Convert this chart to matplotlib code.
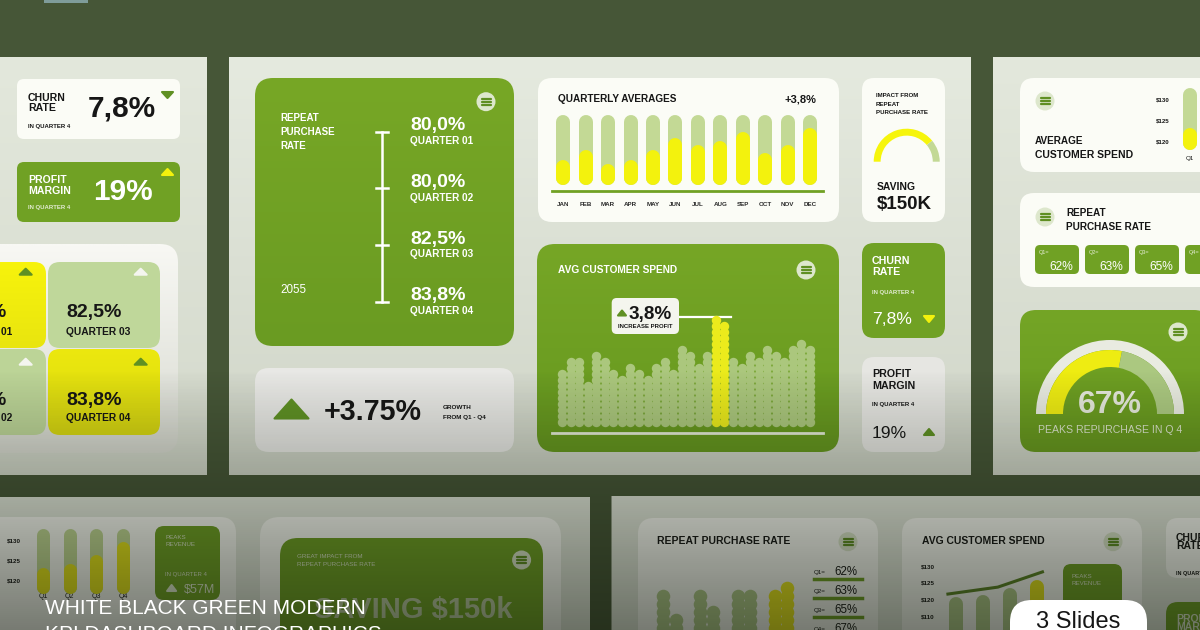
import numpy as np
import matplotlib
matplotlib.use('Agg')
import matplotlib.pyplot as plt
from matplotlib import font_manager
from matplotlib.colors import to_rgb
from matplotlib.patches import FancyBboxPatch, Circle, Polygon, Rectangle

plt.rcParams['font.family'] = ['Liberation Sans', 'DejaVu Sans']
names = {f.name for f in font_manager.fontManager.ttflist}
NARROW = 'Liberation Sans Narrow' in names
COND = ['Liberation Sans Narrow', 'DejaVu Sans'] if NARROW else ['Liberation Sans', 'DejaVu Sans']

# values
churn_rate = 7.8
profit_margin = 19
quarter_names = ['QUARTER 01', 'QUARTER 02', 'QUARTER 03', 'QUARTER 04']
quarter_rate = [80.0, 80.0, 82.5, 83.8]
growth = 3.75
year = '2055'
months = ['JAN', 'FEB', 'MAR', 'APR', 'MAY', 'JUN', 'JUL', 'AUG', 'SEP', 'OCT', 'NOV', 'DEC']
month_avg = [36, 50, 30, 36, 50, 67, 57, 63, 76, 46, 57, 81]
quarterly_change = 3.8
spend_dots = [9, 11, 11, 7, 12, 11, 9, 8, 10, 9, 8, 10, 11, 9, 13,
              12, 10, 12, 18, 17, 11, 10, 12, 11, 13, 12, 11, 13, 14, 13]
spend_peak = [18, 19]
profit_increase = 3.8
impact_share = 0.78
saving = '$150K'
q_short = ['Q1', 'Q2', 'Q3', 'Q4']
repeat_rate = [62, 63, 65, 67]
peak_share = 0.56
peak_label = 67
spend_ticks = ['$130', '$125', '$120']
q1_spend = [36]
q_spend = [40, 46, 60, 80]
repeat_dots = [[6, 3], [6, 4], [6, 6], [6, 7]]
spend_ticks_b = ['$130', '$125', '$120', '$110']
spend_bar_usd = [120.6, 121.2, 123.3, 125.8]
spend_line_x = [-0.3, 1.55, 3.2]
spend_line_usd = [121.5, 123.6, 128.2]
peak_revenue = '$57M'

BG = '#465637'
GREEN = '#70a124'
GREEN_D = '#5f9023'
LIGHT = '#c3d995'
YELLOW = '#f3f20d'
CARD = '#fbfcf6'
INK = '#161616'
PALE = '#e2ebd2'

W, H = 1200, 630
fig = plt.figure(figsize=(12, 6.3), dpi=100)
ax = fig.add_axes([0, 0, 1, 1])
ax.axis('off')


def pct(v, d=1):
    return f'{v:.{d}f}%'.replace('.', ',')


def box(x, y, w, h, color, r=10, z=1, a=None):
    p = FancyBboxPatch((x, y), w, h, boxstyle=f'round,pad=0,rounding_size={r}',
                       fc=color, ec='none', zorder=z)
    (a or ax).add_patch(p)
    return p


def gbox(x, y, w, h, c1, c2, r=10, z=1):
    p = box(x, y, w, h, 'none', r, z)
    g = np.linspace(0, 1, 64)[:, None, None]
    img = (1 - g) * np.array(to_rgb(c1)) + g * np.array(to_rgb(c2))
    im = ax.imshow(img, extent=[x, x + w, y + h, y], aspect='auto', zorder=z,
                   interpolation='bilinear')
    im.set_clip_path(p)


def t(x, y, s, fs, c=INK, w='bold', ha='left', a=None, **kw):
    (a or ax).text(x, y + 0.5 * fs, s, fontsize=fs, color=c, fontweight=w,
                   ha=ha, va='baseline', zorder=8, **kw)


def menu(x, y, bg='#dde7cc', fg='#5f8f22', r=9.5):
    ax.add_patch(Circle((x, y), r, fc=bg, ec='none', zorder=6))
    for dy in (-3, 0, 3):
        ax.plot([x - 4.5, x + 4.5], [y + dy, y + dy], color=fg, lw=1.6,
                solid_capstyle='round', zorder=7)


def tri(x, y, w, h, color, up=True):
    if up:
        pts = [(x - w / 2, y + h / 2), (x + w / 2, y + h / 2), (x, y - h / 2)]
    else:
        pts = [(x - w / 2, y - h / 2), (x + w / 2, y - h / 2), (x, y + h / 2)]
    ax.add_patch(Polygon(pts, closed=True, fc=color, ec=color, lw=1.5,
                         joinstyle='round', zorder=7))


def inset(x, y, w, h):
    a = fig.add_axes([x / W, 1 - (y + h) / H, w / W, h / H])
    a.axis('off')
    return a


def pill_bars(x0, y0, w, h, vals, bw, bg, fgs, xlim):
    a = inset(x0, y0, w, h)
    cap = bw / 2 / h * 100
    for i, (v, fg) in enumerate(zip(vals, fgs)):
        a.plot([i, i], [cap, 100 - cap], color=bg, lw=bw * 0.72,
               solid_capstyle='round', clip_on=False)
        a.plot([i, i], [cap, max(v - cap, cap)], color=fg, lw=bw * 0.72,
               solid_capstyle='round', clip_on=False)
    a.set_xlim(*xlim)
    a.set_ylim(0, 100)


def gauge(cx, cy, r, share, outer, band, c_fill, c_rest):
    a = inset(cx - r, cy - r, 2 * r, 2 * r)
    if outer:
        a.pie([1, 1], radius=1, startangle=0, colors=['#e9ebe1', 'none'],
              wedgeprops=dict(width=outer))
    a.pie([share, 1 - share, 1], radius=1 - outer, startangle=180, counterclock=False,
          colors=[c_fill, c_rest, 'none'], wedgeprops=dict(width=band))
    a.set_xlim(-1, 1)
    a.set_ylim(-1, 1)


# background
ax.add_patch(Rectangle((0, 0), W, H, fc=BG, zorder=0))
ax.add_patch(Rectangle((44, -2), 44, 5, fc='#7f9c9a', zorder=1))

# ---------------- slide 1 (left, cut)
gbox(-5, 57, 212, 418, '#e3e8dc', '#d4d9cc', r=0.1)
box(17, 79, 163, 60, CARD, r=7)
t(28, 97, 'CHURN', 7.6)
t(28, 107.5, 'RATE', 7.6)
t(28, 126, 'IN QUARTER 4', 4.3)
t(88, 106, pct(churn_rate), 21.5)
tri(167.5, 95, 11, 6, GREEN_D, up=False)

box(17, 162, 163, 60, GREEN, r=7)
t(28, 179.5, 'PROFIT', 7.6, 'white')
t(28, 190, 'MARGIN', 7.6, 'white')
t(28, 207, 'IN QUARTER 4', 4.3, PALE)
t(93, 189, f'{profit_margin}%', 21.5, 'white')
tri(167.5, 172, 11, 6, YELLOW)

gbox(-20, 244, 198, 209, '#f8f8f4', '#d8dad1', r=18, z=1)
gbox(-60, 262, 106, 86, '#f7f30c', '#e9e50f', r=12, z=2)
box(48, 262, 112, 86, '#bfd79a', r=12, z=2)
box(-60, 349, 106, 86, '#bcd497', r=12, z=2)
gbox(48, 349, 112, 86, '#ece80e', '#d9d812', r=12, z=2)
t(7, 310.5, pct(quarter_rate[0]), 14, ha='right')
t(12.5, 331.5, quarter_names[0], 7.4, ha='right')
t(7, 398, pct(quarter_rate[1]), 14, ha='right')
t(12.5, 417, quarter_names[1], 7.4, ha='right')
t(66, 310.5, pct(quarter_rate[2]), 14)
t(66, 331.5, quarter_names[2], 7.4)
t(66, 398, pct(quarter_rate[3]), 14)
t(66, 417, quarter_names[3], 7.4)
tri(25.7, 271.7, 12, 6, GREEN_D)
tri(140.7, 271.7, 12, 6, '#f4f5ef')
tri(25.7, 361.7, 12, 6, '#f4f5ef')
tri(140.7, 361.7, 12, 6, GREEN_D)

# ---------------- slide 2 (centre)
gbox(229, 57, 742, 418, '#e5eadf', '#d0d5c8', r=0.1)

gbox(255, 78, 259, 268, '#77a726', '#6a9b22', r=18, z=2)
menu(486, 101.7)
t(280.7, 117.7, 'REPEAT', 7, 'white')
t(280.7, 131.7, 'PURCHASE', 7, 'white')
t(280.7, 145.7, 'RATE', 7, 'white')
t(280.7, 289, year, 8.4, 'white', w='normal')
ax.plot([381.5, 381.5], [131.7, 301.7], color='white', lw=1.8, zorder=5)
for i, (q, v) in enumerate(zip(quarter_names, quarter_rate)):
    yq = 131.7 + i * 56.67
    ax.plot([375.5, 387.5], [yq, yq], color='white', lw=1.8, zorder=5)
    t(410, 123.3 + i * 56.67, pct(v), 14, 'white')
    t(410, 140.5 + i * 56.67, q, 7.2, 'white')

box(255, 368, 259, 84, '#e8e8e5', r=14, z=2)
tri(291.5, 409, 34, 19, '#5f9124')
t(324, 410, f'+{growth}%', 20.6)
t(443, 407, 'GROWTH', 4.6)
t(443, 416.5, 'FROM Q1 - Q4', 4.6)

box(538, 78, 301, 144, CARD, r=14, z=2)
t(558, 98, 'QUARTERLY AVERAGES', 7.2)
t(816.7, 98, '+' + pct(quarterly_change), 8, ha='right')
ax.plot([552, 823], [191, 191], color=GREEN, lw=2, zorder=5)
for i, m in enumerate(months):
    t(563.3 + 22.43 * i, 204, m, 4.5, '#2a2a2a', ha='center')

gbox(537, 244, 302, 208, '#76a626', '#66981f', r=18, z=2)
t(558, 269.3, 'AVG CUSTOMER SPEND', 7.3, 'white')
menu(806, 270)
box(611.7, 298, 67.3, 36, '#f4f5ee', r=5, z=6)
tri(622, 313, 8, 5, GREEN_D)
t(629, 312.5, pct(profit_increase), 13.6)
t(645.5, 325.5, 'INCREASE PROFIT', 4.35, ha='center')
ax.plot([679, 731], [316.7, 316.7], color='white', lw=1.6, zorder=5)
ax.plot([552, 823], [433.3, 433.3], color='#e6edd9', lw=2, zorder=5)

box(862, 78, 83, 144, CARD, r=12, z=2)
t(876, 95, 'IMPACT FROM', 4.4)
t(876, 103.5, 'REPEAT', 4.4)
t(876, 112, 'PURCHASE RATE', 4.4)
t(877, 186, 'SAVING', 7.5)
t(877, 202, saving, 13.5)

box(862, 243, 83, 95, GREEN, r=12, z=2)
t(872, 260.2, 'CHURN', 7.7, 'white')
t(872, 270.8, 'RATE', 7.7, 'white')
t(872, 291.7, 'IN QUARTER 4', 4.3, PALE)
t(872, 318, pct(churn_rate), 12.6, 'white', w='normal')
tri(929, 319, 10, 6, YELLOW, up=False)

box(862, 357, 83, 95, '#e6e6e2', r=12, z=2)
t(872, 373.5, 'PROFIT', 7.7)
t(872, 384.8, 'MARGIN', 7.7)
t(872, 404, 'IN QUARTER 4', 4.3)
t(872, 431.7, f'{profit_margin}%', 12.6, w='normal')
tri(929, 432, 10, 6, GREEN_D)

# ---------------- slide 3 (right, cut)
gbox(993, 57, 220, 418, '#e3e8dc', '#d2d7ca', r=0.1)
box(1020, 78, 200, 94, CARD, r=14, z=2)
menu(1045, 101)
t(1035, 140.7, 'AVERAGE', 7.2)
t(1035, 154.5, 'CUSTOMER SPEND', 7.45)
for k, lab in enumerate(spend_ticks):
    t(1163, 99 + 21 * k, lab, 4.4, ha='center')
t(1190, 158, q_short[0], 4.5, ha='center', w='normal')

box(1020, 193, 200, 94, CARD, r=14, z=2)
menu(1045, 217)
t(1066, 212, 'REPEAT', 7.2)
t(1066, 226, 'PURCHASE RATE', 7.2)
for i, (q, v) in enumerate(zip(q_short, repeat_rate)):
    x = 1035 + 50 * i
    box(x, 245, 44, 29, GREEN, r=5, z=3)
    t(x + 4, 252, q + '=', 4, PALE, w='normal')
    t(x + 38.5, 266, f'{v}%', 8.6, 'white', w='normal', ha='right')

gbox(1020, 310, 190, 142, '#74a526', '#68991f', r=16, z=2)
menu(1178, 332)
t(1110, 401.7, f'{peak_label}%', 23, '#e6e9dc', ha='center')
t(1110, 429, 'PEAKS REPURCHASE IN Q 4', 7.6, '#dfe7cf', ha='center', w='normal')

# ---------------- bottom slides
box(-10, 497, 600, 160, '#e3e8dc', r=0.1)
box(611.5, 496, 610, 160, '#e3e8dc', r=0.1)

box(-20, 517, 256, 130, CARD, r=16, z=2)
for k, lab in enumerate(spend_ticks):
    t(7, 540 + 20 * k, lab, 4.5)
for i, q in enumerate(q_short):
    t(43 + 26.67 * i, 596, q, 5, ha='center', w='normal')
box(155, 526, 65, 74, GREEN, r=9, z=3)
t(165, 537, 'PEAKS', 4.5, PALE, w='normal')
t(165, 544, 'REVENUE', 4.5, PALE, w='normal')
t(165, 574, 'IN QUARTER 4', 4.3, PALE, w='normal')
tri(171.6, 588, 9, 6, PALE)
t(184, 588, peak_revenue, 9, PALE, w='normal')

box(260, 517, 301, 140, CARD, r=20, z=2)
box(280, 538, 263, 120, GREEN, r=18, z=3)
t(297, 556, 'GREAT IMPACT FROM', 4.5, PALE, w='normal')
t(297, 564, 'REPEAT PURCHASE RATE', 4.5, PALE, w='normal')
menu(521.6, 560)
ax.text(314, 605 + 0.5 * 25, 'SAVING ' + saving[:-1] + 'k', fontsize=25 if NARROW else 21,
        family=COND, fontweight='bold', color='#cfd7bf', alpha=0.85, va='baseline', zorder=8)

box(638, 518, 240, 130, CARD, r=16, z=2)
t(657, 540, 'REPEAT PURCHASE RATE', 7.5)
menu(848, 541.7)
for i, (q, v) in enumerate(zip(q_short, repeat_rate)):
    yq = 571 + 19 * i
    t(814, yq + 1, q + '=', 4.5, w='normal')
    t(834, yq, f'{v}%', 8.3, w='normal')
    ax.plot([814, 862], [yq + 8, yq + 8], color=GREEN, lw=2.5, zorder=5)

box(902, 518, 240, 130, CARD, r=16, z=2)
t(922, 540, 'AVG CUSTOMER SPEND', 7.5)
menu(1113, 541.7)
for lab, yy in zip(spend_ticks_b, [566, 582, 599, 616]):
    t(921, yy, lab, 4.5)
box(1063, 564, 59, 80, GREEN, r=8, z=3)
t(1072, 576, 'PEAKS', 4.5, PALE, w='normal')
t(1072, 583, 'REVENUE', 4.5, PALE, w='normal')

box(1166, 518, 60, 60, CARD, r=12, z=2)
t(1176, 537, 'CHURN', 7.5)
t(1176, 545.5, 'RATE', 7.5)
t(1176, 573, 'IN QUARTER 4', 4)
box(1166, 602, 60, 50, GREEN, r=12, z=2)
t(1176, 618, 'PROFIT', 7.5, PALE)
t(1176, 626.5, 'MARGIN', 7.5, PALE)

ax.set_xlim(0, W)
ax.set_ylim(H, 0)

# ---------------- charts drawn in their own axes
pill_bars(552, 115, 271, 70, month_avg, 14, LIGHT, [YELLOW] * 12, (-0.504, 11.578))

dots = inset(557.7, 311, 256.6, 114)
for c, n in enumerate(spend_dots):
    col = '#ebeb1c' if c in spend_peak else '#abc77d'
    dots.scatter([c] * n, range(n), s=46, color=col, linewidths=0, clip_on=False)
dots.set_xlim(-0.5, 29.5)
dots.set_ylim(-0.5, 18.5)

gauge(906.7, 161.7, 33, impact_share, 0, 0.21, '#f6f50c', LIGHT)
gauge(1110, 414, 74, peak_share, 0.135, 0.23, '#eeec12', '#abc880')

pill_bars(1183, 88, 14, 62, q1_spend, 14, LIGHT, [YELLOW], (-0.5, 0.5))
pill_bars(36, 528, 94, 65, q_spend, 13, LIGHT, ['#e9e61a'] * 4, (-0.2625, 3.262))

rd = inset(650, 560, 150, 80)
for g, cols in enumerate(repeat_dots):
    for k, n in enumerate(cols):
        col = '#eeea1c' if g == len(repeat_dots) - 1 else '#b3cc8c'
        rd.scatter([g + 0.335 * k] * n, range(n), s=95, color=col, linewidths=0, clip_on=False)
rd.set_xlim(-0.349, 3.673)
rd.set_ylim(-0.5, 9.5)

sb = inset(940, 560, 110, 80)
for i, v in enumerate(spend_bar_usd):
    col = '#e9e61a' if i == len(spend_bar_usd) - 1 else '#b3cc8c'
    sb.plot([i, i], [100, v - 7 / 3.3], color=col, lw=14 * 0.72,
            solid_capstyle='round', clip_on=False)
sb.plot(spend_line_x, spend_line_usd, color='#5c8426', lw=2.2, clip_on=False)
sb.set_xlim(-0.593, 3.48)
sb.set_ylim(107.6, 131.8)

# ---------------- dark fade over the lower part
ov = fig.add_axes([0, 0, 1, 1], zorder=20)
ov.axis('off')
fade = np.zeros((H, 1, 4))
fade[:, 0, :3] = to_rgb('#0e1409')
fade[:, 0, 3] = 0.56 * np.clip((np.arange(H) - 370) / 260, 0, 1) ** 0.9
ov.imshow(fade, extent=[0, W, H, 0], aspect='auto')
ov.set_xlim(0, W)
ov.set_ylim(H, 0)

top = fig.add_axes([0, 0, 1, 1], zorder=30)
top.axis('off')
top.set_xlim(0, W)
top.set_ylim(H, 0)
fs_title = 18 if NARROW else 15
top.text(45, 606 + 0.5 * fs_title, 'WHITE BLACK GREEN MODERN', fontsize=fs_title,
         family=COND, color='white', va='baseline')
top.text(45, 633 + 0.5 * fs_title, 'KPI DASHBOARD INFOGRAPHICS', fontsize=fs_title,
         family=COND, color='white', va='baseline')
box(1010, 600, 137, 60, 'white', r=22, a=top)
t(1078, 619, '3 Slides', 17, INK, w='normal', ha='center', a=top)

fig.savefig('out.png', dpi=100)
